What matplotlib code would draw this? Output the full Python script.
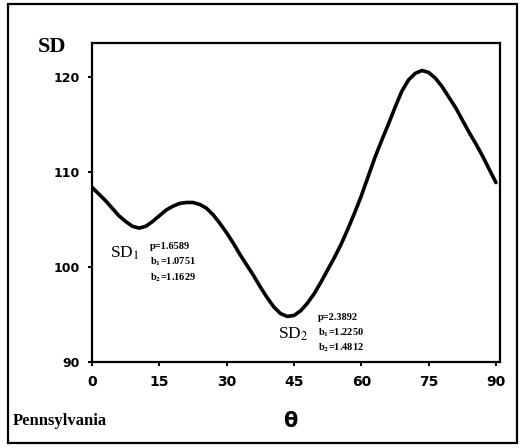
import matplotlib
matplotlib.use("Agg")
import matplotlib.pyplot as plt
from matplotlib.patches import Rectangle

# values (theta in degrees, SD), every 1.5 degrees
theta = [0, 1.5, 3, 4.5, 6, 7.5, 9, 10.5, 12, 13.5, 15, 16.5, 18, 19.5, 21, 22.5,
         24, 25.5, 27, 28.5, 30, 31.5, 33, 34.5, 36, 37.5, 39, 40.5, 42, 43.5,
         45, 46.5, 48, 49.5, 51, 52.5, 54, 55.5, 57, 58.5, 60, 61.5, 63, 64.5,
         66, 67.5, 69, 70.5, 72, 73.5, 75, 76.5, 78, 79.5, 81, 82.5, 84, 85.5,
         87, 88.5, 90]
sd = [108.4, 107.7, 107.0, 106.2, 105.4, 104.8, 104.3, 104.1, 104.3, 104.8, 105.4,
      106.0, 106.4, 106.7, 106.8, 106.8, 106.6, 106.2, 105.5, 104.6, 103.6, 102.5,
      101.3, 100.2, 99.1, 97.9, 96.8, 95.8, 95.1, 94.8, 94.9, 95.4, 96.2, 97.2,
      98.4, 99.7, 101.0, 102.4, 104.0, 105.7, 107.5, 109.5, 111.5, 113.3, 115.0,
      116.8, 118.5, 119.7, 120.4, 120.7, 120.5, 119.9, 119.0, 117.9, 116.8, 115.5,
      114.2, 113.0, 111.7, 110.3, 108.9]

x_ticks = [0, 15, 30, 45, 60, 75, 90]
y_ticks = [90, 100, 110, 120]

sd1_params = [r"p=1.6589", r"b$_\mathbf{1}$=1.0751", r"b$_\mathbf{2}$=1.1629"]
sd2_params = [r"p=2.3892", r"b$_\mathbf{1}$=1.2250", r"b$_\mathbf{2}$=1.4812"]

W, H = 525, 448
fig = plt.figure(figsize=(W / 100, H / 100), dpi=100)
ax = fig.add_axes([92 / W, 1 - 362 / H, (500 - 92) / W, (362 - 43) / H])

ax.plot(theta, sd, color="black", lw=2.6, solid_joinstyle="round", solid_capstyle="round")
ax.set_xlim(0, 90.9)
ax.set_ylim(90, 123.6)
ax.set_xticks(x_ticks)
ax.set_yticks(y_ticks)
ax.tick_params(direction="out", length=3, width=1.4, pad=6)
for lab in ax.get_xticklabels():
    lab.set_fontsize(10)
    lab.set_fontweight("bold")
for lab in ax.get_yticklabels():
    lab.set_fontsize(9)
    lab.set_fontweight("bold")
for s in ax.spines.values():
    s.set_linewidth(1.6)

serif = "Liberation Serif"

# annotations near the two minima
fig.text(110 / W, 1 - 253 / H, "SD$_1$", fontsize=12.5, family=serif, va="center",
         math_fontfamily="stix")
for i, t in enumerate(sd1_params):
    fig.text(150 / W, 1 - (246 + i * 16) / H, t, fontsize=7.5, family=serif,
             fontweight="bold", va="center", math_fontfamily="stix")
fig.text(278 / W, 1 - 334 / H, "SD$_2$", fontsize=12.5, family=serif, va="center",
         math_fontfamily="stix")
for i, t in enumerate(sd2_params):
    fig.text(318 / W, 1 - (317 + i * 15.5) / H, t, fontsize=7.5, family=serif,
             fontweight="bold", va="center", math_fontfamily="stix")

# axis titles
fig.text(38 / W, 1 - 47 / H, "SD", fontsize=16, family=serif, fontweight="bold", va="center")
fig.text(290 / W, 1 - 421 / H, "θ", fontsize=15, fontweight="bold",
         ha="center", va="center")
fig.text(13 / W, 1 - 421 / H, "Pennsylvania", fontsize=12, family=serif, fontweight="bold",
         va="center")

# outer frame
fig.patches.append(Rectangle((8 / W, 1 - 443 / H), 509 / W, 439 / H, transform=fig.transFigure,
                             fill=False, lw=1.6, edgecolor="black"))

fig.savefig("out.png", dpi=100)
